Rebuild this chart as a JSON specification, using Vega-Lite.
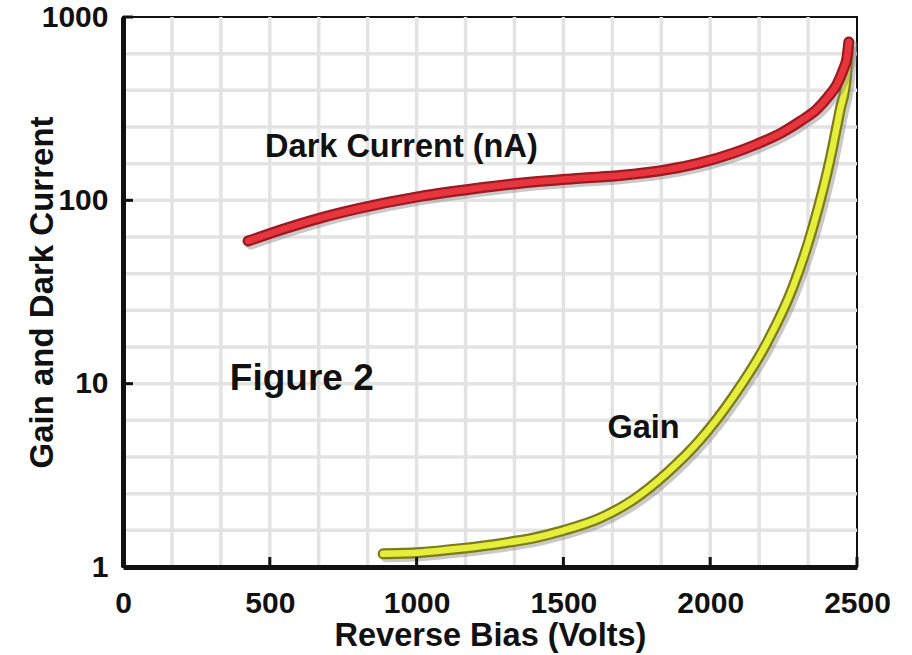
{
  "$schema": "https://vega.github.io/schema/vega-lite/v6.json",
  "width": 734,
  "height": 550,
  "autosize": {"type": "none"},
  "padding": {"left": 123, "top": 17, "right": 55, "bottom": 88},
  "background": "white",
  "view": {"stroke": "#111", "strokeWidth": 2},
  "config": {"font": "Liberation Sans"},
  "datasets": {
    "gridx": [
      {"v": 166.667}, {"v": 333.333}, {"v": 500}, {"v": 666.667}, {"v": 833.333}, {"v": 1000},
      {"v": 1166.667}, {"v": 1333.333}, {"v": 1500}, {"v": 1666.667}, {"v": 1833.333}, {"v": 2000},
      {"v": 2166.667}, {"v": 2333.333}
    ],
    "gridy": [
      {"val": 1.585}, {"val": 2.512}, {"val": 3.981}, {"val": 6.31}, {"val": 10},
      {"val": 15.85}, {"val": 25.12}, {"val": 39.81}, {"val": 63.1}, {"val": 100},
      {"val": 158.5}, {"val": 251.2}, {"val": 398.1}, {"val": 631}
    ],
    "ticksx": [{"v": 500}, {"v": 1000}, {"v": 1500}, {"v": 2000}, {"v": 2500}],
    "ticksy": [{"val": 10}, {"val": 100}, {"val": 1000}],
    "curves": [
      {"s": "dark", "v": 426, "val": 60},
      {"s": "dark", "v": 550, "val": 70},
      {"s": "dark", "v": 671, "val": 80},
      {"s": "dark", "v": 800, "val": 90},
      {"s": "dark", "v": 1012, "val": 105},
      {"s": "dark", "v": 1200, "val": 116},
      {"s": "dark", "v": 1352, "val": 124},
      {"s": "dark", "v": 1557, "val": 132},
      {"s": "dark", "v": 1700, "val": 137},
      {"s": "dark", "v": 1853, "val": 147},
      {"s": "dark", "v": 1965, "val": 160},
      {"s": "dark", "v": 2078, "val": 181},
      {"s": "dark", "v": 2160, "val": 203},
      {"s": "dark", "v": 2248, "val": 236},
      {"s": "dark", "v": 2310, "val": 272},
      {"s": "dark", "v": 2364, "val": 315},
      {"s": "dark", "v": 2400, "val": 365},
      {"s": "dark", "v": 2432, "val": 430},
      {"s": "dark", "v": 2453, "val": 515},
      {"s": "dark", "v": 2466, "val": 600},
      {"s": "dark", "v": 2472, "val": 730},
      {"s": "gain", "v": 886, "val": 1.18},
      {"s": "gain", "v": 1012, "val": 1.2},
      {"s": "gain", "v": 1150, "val": 1.26},
      {"s": "gain", "v": 1295, "val": 1.35},
      {"s": "gain", "v": 1400, "val": 1.44},
      {"s": "gain", "v": 1499, "val": 1.58},
      {"s": "gain", "v": 1625, "val": 1.85},
      {"s": "gain", "v": 1737, "val": 2.32},
      {"s": "gain", "v": 1853, "val": 3.26},
      {"s": "gain", "v": 1965, "val": 4.93},
      {"s": "gain", "v": 2078, "val": 8.46},
      {"s": "gain", "v": 2193, "val": 16.7},
      {"s": "gain", "v": 2282, "val": 33.7},
      {"s": "gain", "v": 2350, "val": 71.6},
      {"s": "gain", "v": 2408, "val": 166},
      {"s": "gain", "v": 2442, "val": 310},
      {"s": "gain", "v": 2464, "val": 470},
      {"s": "gain", "v": 2471, "val": 680}
    ],
    "labels": [
      {"t": "Dark Current (nA)", "v": 484, "val": 172},
      {"t": "Gain", "v": 1650, "val": 5.06}
    ],
    "fig": [
      {"t": "Figure 2", "v": 364, "val": 9.24}
    ]
  },
  "layer": [
    {
      "data": {"name": "gridx"},
      "mark": {"type": "rule", "color": "#e3e3e3", "strokeWidth": 3.5},
      "encoding": {
        "x": {
          "field": "v",
          "type": "quantitative",
          "scale": {"domain": [0, 2500], "nice": false, "zero": false},
          "axis": {
            "values": [0, 500, 1000, 1500, 2000, 2500],
            "format": "d",
            "title": "Reverse Bias (Volts)",
            "grid": false,
            "ticks": false,
            "zindex": 1,
            "domainColor": "#111",
            "domainWidth": 5,
            "labelFont": "Liberation Sans",
            "labelFontSize": 30,
            "labelFontWeight": "bold",
            "labelColor": "#111",
            "labelPadding": 21,
            "labelFlush": false,
            "labelOverlap": false,
            "titleFont": "Liberation Sans",
            "titleFontSize": 32.5,
            "titleFontWeight": "bold",
            "titleColor": "#111",
            "titleX": 367,
            "titleY": 78,
            "titleBaseline": "alphabetic",
            "titleAlign": "center"
          }
        }
      }
    },
    {
      "data": {"name": "gridy"},
      "mark": {"type": "rule", "color": "#e3e3e3", "strokeWidth": 3.5},
      "encoding": {
        "y": {
          "field": "val",
          "type": "quantitative",
          "scale": {"type": "log", "domain": [1, 1000], "nice": false},
          "axis": {
            "values": [1, 10, 100, 1000],
            "format": "d",
            "title": "Gain and Dark Current",
            "grid": false,
            "ticks": false,
            "zindex": 1,
            "domainColor": "#111",
            "domainWidth": 5,
            "labelFont": "Liberation Sans",
            "labelFontSize": 30,
            "labelFontWeight": "bold",
            "labelColor": "#111",
            "labelPadding": 15,
            "labelFlush": false,
            "labelOverlap": false,
            "titleFont": "Liberation Sans",
            "titleFontSize": 33,
            "titleFontWeight": "bold",
            "titleColor": "#111",
            "titleX": -71,
            "titleY": 275,
            "titleAngle": -90,
            "titleBaseline": "alphabetic",
            "titleAlign": "center"
          }
        }
      }
    },
    {
      "data": {"name": "curves"},
      "transform": [{"filter": "datum.s == 'gain'"}],
      "mark": {"type": "line", "interpolate": "monotone", "color": "#888", "opacity": 0.45, "strokeWidth": 11, "strokeCap": "round", "xOffset": 3, "yOffset": 3},
      "encoding": {"x": {"field": "v", "type": "quantitative"}, "y": {"field": "val", "type": "quantitative"}}
    },
    {
      "data": {"name": "curves"},
      "transform": [{"filter": "datum.s == 'gain'"}],
      "mark": {"type": "line", "interpolate": "monotone", "color": "#7d7a18", "strokeWidth": 11, "strokeCap": "round"},
      "encoding": {"x": {"field": "v", "type": "quantitative"}, "y": {"field": "val", "type": "quantitative"}}
    },
    {
      "data": {"name": "curves"},
      "transform": [{"filter": "datum.s == 'gain'"}],
      "mark": {"type": "line", "interpolate": "monotone", "color": "#e6ee3c", "strokeWidth": 6.5, "strokeCap": "round"},
      "encoding": {"x": {"field": "v", "type": "quantitative"}, "y": {"field": "val", "type": "quantitative"}}
    },
    {
      "data": {"name": "curves"},
      "transform": [{"filter": "datum.s == 'dark'"}],
      "mark": {"type": "line", "interpolate": "monotone", "color": "#888", "opacity": 0.45, "strokeWidth": 11, "strokeCap": "round", "xOffset": 3, "yOffset": 3},
      "encoding": {"x": {"field": "v", "type": "quantitative"}, "y": {"field": "val", "type": "quantitative"}}
    },
    {
      "data": {"name": "curves"},
      "transform": [{"filter": "datum.s == 'dark'"}],
      "mark": {"type": "line", "interpolate": "monotone", "color": "#9c1a22", "strokeWidth": 11, "strokeCap": "round"},
      "encoding": {"x": {"field": "v", "type": "quantitative"}, "y": {"field": "val", "type": "quantitative"}}
    },
    {
      "data": {"name": "curves"},
      "transform": [{"filter": "datum.s == 'dark'"}],
      "mark": {"type": "line", "interpolate": "monotone", "color": "#e8353d", "strokeWidth": 6.5, "strokeCap": "round"},
      "encoding": {"x": {"field": "v", "type": "quantitative"}, "y": {"field": "val", "type": "quantitative"}}
    },
    {
      "data": {"name": "ticksx"},
      "mark": {"type": "rule", "color": "#111", "strokeWidth": 3},
      "encoding": {"x": {"field": "v", "type": "quantitative"}, "y": {"datum": 1}, "y2": {"datum": 1.134}}
    },
    {
      "data": {"name": "ticksy"},
      "mark": {"type": "rule", "color": "#111", "strokeWidth": 3},
      "encoding": {"y": {"field": "val", "type": "quantitative"}, "x": {"datum": 0}, "x2": {"datum": 34}}
    },
    {
      "data": {"name": "labels"},
      "mark": {"type": "text", "align": "left", "baseline": "alphabetic", "font": "Liberation Sans", "fontSize": 32.5, "fontWeight": "bold", "color": "#111"},
      "encoding": {"x": {"field": "v", "type": "quantitative"}, "y": {"field": "val", "type": "quantitative"}, "text": {"field": "t", "type": "nominal"}}
    },
    {
      "data": {"name": "fig"},
      "mark": {"type": "text", "align": "left", "baseline": "alphabetic", "font": "Liberation Sans", "fontSize": 37, "fontWeight": "bold", "color": "#111"},
      "encoding": {"x": {"field": "v", "type": "quantitative"}, "y": {"field": "val", "type": "quantitative"}, "text": {"field": "t", "type": "nominal"}}
    }
  ]
}
